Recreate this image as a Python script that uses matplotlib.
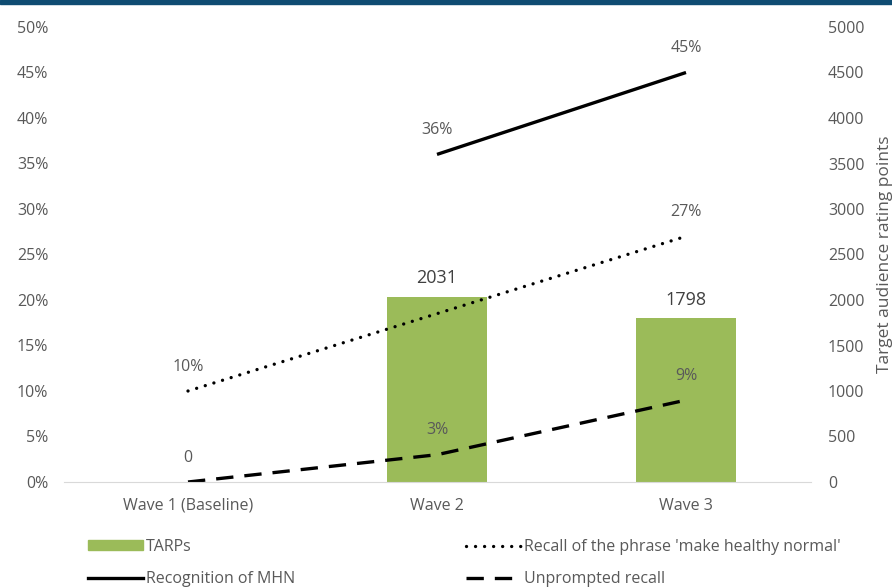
import numpy as np
import matplotlib
matplotlib.use("Agg")
import matplotlib.pyplot as plt
from matplotlib.lines import Line2D
from matplotlib.patches import Patch

plt.rcParams['font.family'] = ['Open Sans', 'DejaVu Sans']

categories = ["Wave 1 (Baseline)", "Wave 2", "Wave 3"]
tarps = [np.nan, 2031, 1798]
recall_phrase = [0.10, np.nan, 0.27]
recognition = [np.nan, 0.36, 0.45]
unprompted = [0.0, 0.03, 0.09]
unprompted_labels = ["0", "3%", "9%"]

GRAY = "#595959"
FS = 11.5
fig = plt.figure(figsize=(8.92, 5.87), dpi=100)
ax = fig.add_axes([63.5/892, 1-482/587, (810.5-63.5)/892, (482-27)/587])
ax2 = ax.twinx()
ax.set_zorder(2); ax2.set_zorder(1); ax.patch.set_visible(False)

x = np.arange(len(categories))

# bars on secondary axis
bx = [i for i, v in enumerate(tarps) if not np.isnan(v)]
bv = [v for v in tarps if not np.isnan(v)]
ax2.bar(bx, bv, width=0.4, color="#9BBB59", zorder=1)
for i, v in zip(bx, bv):
    ax2.annotate(f"{int(v)}", (i, v), xytext=(0, 13.5), textcoords="offset points",
                 ha="center", va="center", fontsize=13, color="#404040")
ax2.set_ylim(0, 5000)
ax2.set_yticks(np.arange(0, 5001, 500))
ax2.set_ylabel("Target audience rating points", fontsize=12.5, color=GRAY, labelpad=9)

def plot_series(vals, **kw):
    xs = [i for i, v in enumerate(vals) if not np.isnan(v)]
    ys = [v for v in vals if not np.isnan(v)]
    ax.plot(xs, ys, **kw)

lw = 2.4
DOT = (0, (0.01, 2.7))
DASH = (0, (5.2, 3.3))
plot_series(recall_phrase, color="black", lw=lw, linestyle=DOT, dash_capstyle="round")
plot_series(recognition, color="black", lw=lw, solid_capstyle="butt")
plot_series(unprompted, color="black", lw=lw, linestyle=DASH, dash_capstyle="butt")

def label_series(vals, labels=None):
    for i, v in enumerate(vals):
        if np.isnan(v):
            continue
        t = labels[i] if labels else f"{v*100:.0f}%"
        ax.annotate(t, (i, v), xytext=(0, 17.5), textcoords="offset points",
                    ha="center", va="center", fontsize=FS, color=GRAY)

label_series(recall_phrase)
label_series(recognition)
label_series(unprompted, unprompted_labels)

ax.set_ylim(0, 0.5)
ax.set_yticks(np.arange(0, 0.51, 0.05))
ax.set_yticklabels([f"{int(round(t*100))}%" for t in np.arange(0, 0.51, 0.05)])
ax.set_xlim(-0.5, 2.5)
ax.set_xticks(x)
ax.set_xticklabels(categories)

for a in (ax, ax2):
    for s in a.spines.values():
        s.set_visible(False)
    a.tick_params(length=0, labelsize=FS, labelcolor=GRAY)
ax.spines["bottom"].set_visible(True)
ax.spines["bottom"].set_color("#d9d9d9")
ax.tick_params(axis="y", pad=11)
ax.tick_params(axis="x", pad=11.5)
ax2.tick_params(axis="y", pad=12.6)

# top band
fig.patches.append(plt.Rectangle((0, 1-4/587), 1, 4/587, transform=fig.transFigure,
                                 color="#0F4C72", zorder=10))

h1 = [Patch(color="#9BBB59"), Line2D([], [], color="black", lw=lw)]
l1 = ["TARPs", "Recognition of MHN"]
h2 = [Line2D([], [], color="black", lw=lw, linestyle=DOT, dash_capstyle="round"),
      Line2D([], [], color="black", lw=lw, linestyle=DASH)]
l2 = ["Recall of the phrase 'make healthy normal'", "Unprompted recall"]
common = dict(frameon=False, fontsize=FS, handlelength=3.45, handletextpad=0.15,
              labelspacing=1.03, borderaxespad=0, borderpad=0, loc="upper left",
              labelcolor=GRAY, handleheight=0.6)
leg1 = fig.legend(h1, l1, bbox_to_anchor=(88/892, 1-539/587), **common)
leg2 = fig.legend(h2, l2, bbox_to_anchor=(466/892, 1-539/587), **common)

fig.savefig("out.png", dpi=100)
